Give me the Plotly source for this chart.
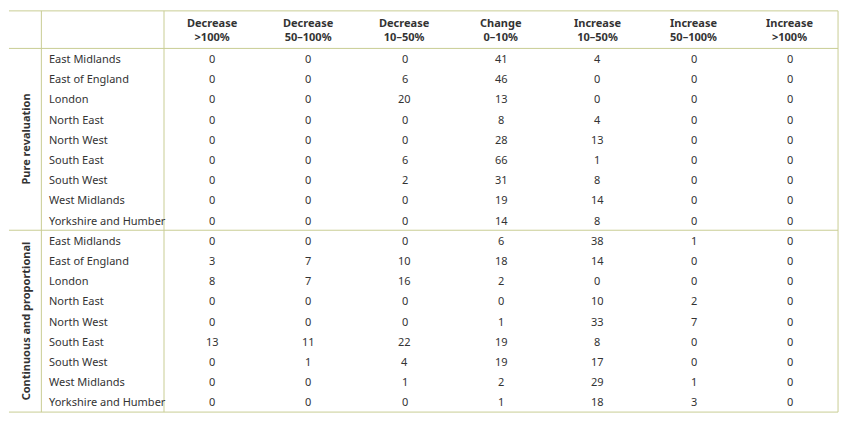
import plotly.graph_objects as go

columns = ["Decrease<br>>100%", "Decrease<br>50–100%", "Decrease<br>10–50%", "Change<br>0–10%",
           "Increase<br>10–50%", "Increase<br>50–100%", "Increase<br>>100%"]
regions = ["East Midlands", "East of England", "London", "North East", "North West",
           "South East", "South West", "West Midlands", "Yorkshire and Humber"]
groups = ["Pure revaluation", "Continuous and proportional"]

pure_revaluation = [
    [0, 0, 0, 41, 4, 0, 0],
    [0, 0, 6, 46, 0, 0, 0],
    [0, 0, 20, 13, 0, 0, 0],
    [0, 0, 0, 8, 4, 0, 0],
    [0, 0, 0, 28, 13, 0, 0],
    [0, 0, 6, 66, 1, 0, 0],
    [0, 0, 2, 31, 8, 0, 0],
    [0, 0, 0, 19, 14, 0, 0],
    [0, 0, 0, 14, 8, 0, 0],
]
continuous_proportional = [
    [0, 0, 0, 6, 38, 1, 0],
    [3, 7, 10, 18, 14, 0, 0],
    [8, 7, 16, 2, 0, 0, 0],
    [0, 0, 0, 0, 10, 2, 0],
    [0, 0, 0, 1, 33, 7, 0],
    [13, 11, 22, 19, 8, 0, 0],
    [0, 1, 4, 19, 17, 0, 0],
    [0, 0, 1, 2, 29, 1, 0],
    [0, 0, 0, 1, 18, 3, 0],
]

# page has an 8px body margin, so the figure is drawn in the space that is left
W, H = 848, 422
PAD = 8
LINE = "#c9cd94"
TXT = "#333333"
FONT = "Noto Sans"
x_group, x_region, x_right = 33, 158, 845
col_w = (x_right - x_region) / len(columns)
top, head_h, row_h = 2, 39, 21.0

fig = go.Figure()
shapes = []
ann = []


def hline(y):
    shapes.append(dict(type="line", x0=0, x1=x_right, y0=y, y1=y, line=dict(color=LINE, width=1)))


hline(top)
hline(top + head_h)
for ci, c in enumerate(columns):
    ann.append(dict(x=x_region + col_w * (ci + 0.5), y=top + head_h / 2, text=f"<b>{c}</b>",
                    font=dict(size=11, color=TXT, family=FONT)))

y = top + head_h
for g, data in zip(groups, [pure_revaluation, continuous_proportional]):
    y0 = y
    for ri, r in enumerate(regions):
        yc = y + row_h * (ri + 0.5)
        ann.append(dict(x=x_group + 6, y=yc, text=r, xanchor="left",
                        font=dict(size=11, color=TXT, family=FONT)))
        for ci, v in enumerate(data[ri]):
            ann.append(dict(x=x_region + col_w * (ci + 0.5), y=yc, text=str(v),
                            font=dict(size=11, color=TXT, family=FONT)))
    y = y0 + row_h * len(regions)
    ann.append(dict(x=x_group / 2, y=(y0 + y) / 2, text=f"<b>{g}</b>", textangle=-90,
                    font=dict(size=11, color=TXT, family=FONT)))
    hline(y)

for xv in [x_group, x_region, x_right]:
    shapes.append(dict(type="line", x0=xv, x1=xv, y0=top, y1=y, line=dict(color=LINE, width=1)))

for a in ann:
    a.update(xref="x", yref="y", showarrow=False)

fig.update_layout(
    width=W - 2 * PAD, height=H - 2 * PAD, margin=dict(l=0, r=0, t=0, b=0),
    paper_bgcolor="white", plot_bgcolor="white",
    xaxis=dict(range=[-1, W - 1], visible=False, fixedrange=True),
    yaxis=dict(range=[H - 1, -1], visible=False, fixedrange=True),
    shapes=shapes, annotations=ann, showlegend=False,
)
fig.write_html("out.html", config={"displayModeBar": False})
